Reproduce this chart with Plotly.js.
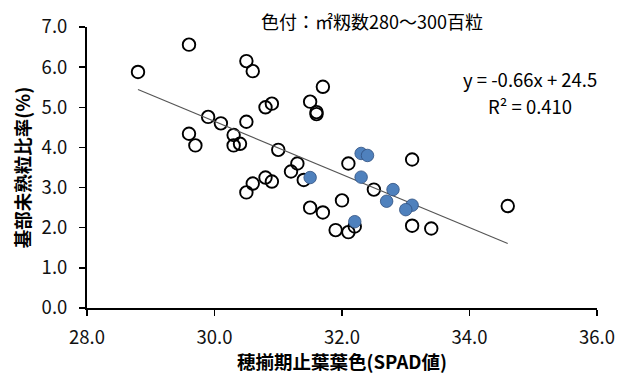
<!DOCTYPE html>
<html>
<head>
<meta charset="utf-8">
<script src="https://cdn.plot.ly/plotly-3.0.1.min.js"></script>
<style>html,body{margin:0;padding:0;background:#fff;}#chart{width:618px;height:374px;}</style>
</head>
<body>
<div id="chart"></div>
<script>
// Open circles (all samples)
const openX = [28.8, 29.6, 30.5, 30.6, 31.7, 31.5, 31.6, 31.6, 30.8, 30.9,
               30.5, 29.9, 30.1, 29.6, 29.7, 30.3, 30.3, 30.4, 31.0, 31.3,
               32.1, 33.1, 31.2, 31.4, 30.8, 30.9, 30.6, 30.5, 31.5, 31.7,
               32.0, 31.9, 32.1, 32.2, 32.5, 33.1, 33.4, 34.6];
const openY = [5.88, 6.56, 6.15, 5.90, 5.51, 5.14, 4.88, 4.83, 5.00, 5.09,
               4.64, 4.76, 4.60, 4.34, 4.05, 4.31, 4.05, 4.09, 3.94, 3.60,
               3.60, 3.70, 3.40, 3.19, 3.25, 3.15, 3.10, 2.88, 2.50, 2.38,
               2.68, 1.94, 1.89, 2.03, 2.95, 2.05, 1.98, 2.54];
// Filled (colored) points: ㎡籾数280〜300百粒
const blueX = [32.3, 32.4, 31.5, 32.3, 32.8, 32.7, 33.1, 33.0, 32.2];
const blueY = [3.85, 3.80, 3.25, 3.26, 2.95, 2.66, 2.56, 2.45, 2.15];
// Linear trend
const trendSlope = -0.662;
const trendIntercept = 24.51;
const eqLine1 = "y = -0.66x + 24.5";
const eqLine2 = "R² = 0.410";
const titleText = "色付：㎡籾数280～300百粒";
const xTitle = "穂揃期止葉葉色(SPAD値)";
const yTitle = "基部未熟粒比率(%)";
const xTicks = [28, 30, 32, 34, 36];
const yTicks = [0, 1, 2, 3, 4, 5, 6, 7];

const allX = openX.concat(blueX);
const xMin = Math.min(...allX), xMax = Math.max(...allX);
const trendX = [xMin, xMax];
const trendY = trendX.map(v => trendSlope * v + trendIntercept);

const FONT = "'Noto Sans CJK JP', 'Noto Sans', sans-serif";
const L = 86.5, R = 597, T = 26.7, B = 307.7;
const px = xp => (xp - L) / (R - L);
const py = yp => (B - yp) / (B - T);

const data = [
  {x: openX, y: openY, type: 'scatter', mode: 'markers',
   marker: {symbol: 'circle', size: 12.5, color: 'rgba(255,255,255,0)', line: {color: '#000', width: 1.9}},
   hoverinfo: 'skip'},
  {x: trendX, y: trendY, type: 'scatter', mode: 'lines',
   line: {color: '#555', width: 1.1}, hoverinfo: 'skip'},
  {x: blueX, y: blueY, type: 'scatter', mode: 'markers',
   marker: {symbol: 'circle', size: 12.5, color: '#4F81BD', line: {color: '#2F4F7F', width: 0.8}},
   hoverinfo: 'skip'}
];

const layout = {
  width: 618, height: 374,
  margin: {l: L, r: 618 - R, t: T, b: 374 - B},
  paper_bgcolor: '#fff', plot_bgcolor: '#fff',
  showlegend: false,
  font: {family: FONT, size: 18, color: '#111'},
  xaxis: {
    range: [28, 36], tickvals: xTicks,
    ticktext: xTicks.map(v => v.toFixed(1)),
    showgrid: false, zeroline: false, showline: true, linecolor: '#000', linewidth: 2,
    ticks: 'outside', ticklen: 6, tickwidth: 1.5, tickcolor: '#000',
    ticklabelstandoff: 6,
    tickfont: {family: FONT, size: 18.5, color: '#111'},
    title: {text: xTitle, font: {family: FONT, size: 18.5, color: '#000', weight: 'bold'}, standoff: 4}
  },
  yaxis: {
    range: [0, 7], tickvals: yTicks,
    ticktext: yTicks.map(v => v.toFixed(1)),
    showgrid: false, zeroline: false, showline: true, linecolor: '#000', linewidth: 2,
    ticks: 'outside', ticklen: 6, tickwidth: 1.5, tickcolor: '#000',
    ticklabelstandoff: 8,
    tickfont: {family: FONT, size: 18.5, color: '#111'},
    title: {text: yTitle, font: {family: FONT, size: 18.5, color: '#000', weight: 'bold'}, standoff: 6}
  },
  annotations: [
    {text: titleText, xref: 'paper', yref: 'paper', x: px(372), y: py(21),
     xanchor: 'center', yanchor: 'middle', showarrow: false,
     font: {family: FONT, size: 18, color: '#000'}},
    {text: eqLine1, xref: 'paper', yref: 'paper', x: px(530), y: py(79),
     xanchor: 'center', yanchor: 'middle', showarrow: false, borderpad: 0,
     font: {family: FONT, size: 18.5, color: '#000'}},
    {text: eqLine2, xref: 'paper', yref: 'paper', x: px(530), y: py(105.5),
     xanchor: 'center', yanchor: 'middle', showarrow: false, borderpad: 0,
     font: {family: FONT, size: 18.5, color: '#000'}}
  ]
};

Plotly.newPlot('chart', data, layout, {staticPlot: true, displayModeBar: false});
</script>
</body>
</html>
